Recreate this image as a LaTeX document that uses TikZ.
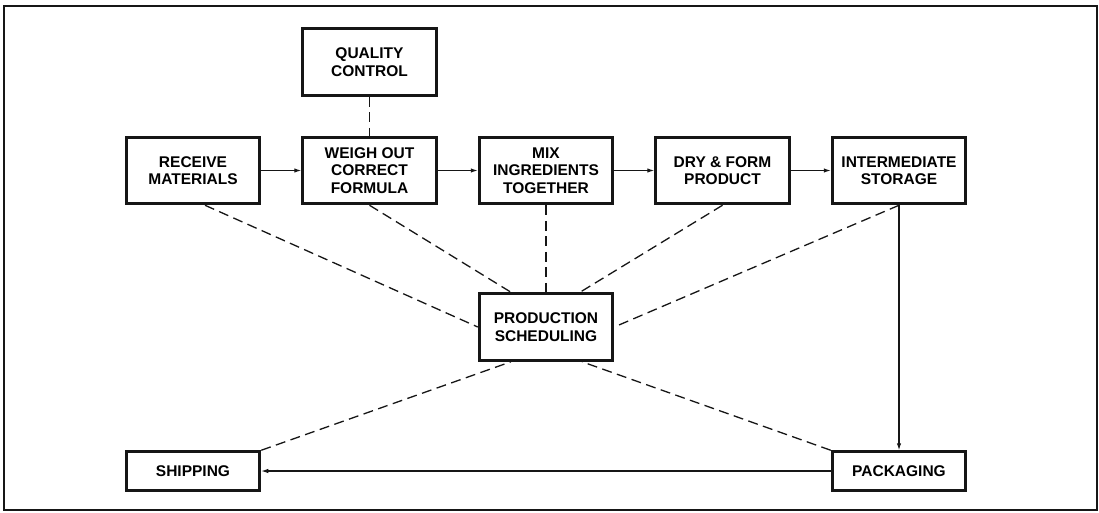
\documentclass[tikz,border=0pt]{standalone}
\usepackage{fontspec}
\setmainfont{Liberation Sans}
\usepackage{xcolor}
\usepackage{tikz}
\usetikzlibrary{
  arrows.meta,
  positioning
}
\definecolor{InkBlack}{RGB}{22,22,22}
\tikzset{
  %%── 工序方框 ─────────────────────────────────────────────
  stage/.style = {
    rectangle, draw = InkBlack, fill = white,
    line width = 3pt, inner sep = 2pt,
    minimum width = 133.5pt, minimum height = 66.5pt,
    align = center, font = \bfseries\fontsize{15.5}{17.5}\selectfont
  },
  flat/.style = {stage, minimum height = 38.5pt},
  %%── 连线 ─────────────────────────────────────────────────
  flow/.style  = {-{Latex[length = 7pt, width = 4.5pt]}, line width = 1.1pt, color = InkBlack},
  link/.style  = {dash pattern = on 10pt off 5.5pt, line width = 1.3pt, color = InkBlack},
  frame/.style = {line width = 2pt, color = InkBlack},
}
\begin{document}
\begin{tikzpicture}[x = 1pt, y = -1pt, node distance = 40pt]

  \useasboundingbox (0,0) rectangle (1099,512);
  \draw[frame] (4,6) rectangle (1097,510);

  %% ── 主流程 ───────────────────────────────────────────
  \node[stage] (receive) at (193,170.5) {RECEIVE\\MATERIALS};
  \node[stage, right=of receive] (weigh) {WEIGH OUT\\CORRECT\\FORMULA};
  \node[stage, right=of weigh]   (mix)   {MIX\\INGREDIENTS\\TOGETHER};
  \node[stage, right=of mix]     (dry)   {DRY \& FORM\\PRODUCT};
  \node[stage, right=of dry]     (inter) {INTERMEDIATE\\STORAGE};

  %% ── 质检 / 计划 ──────────────────────────────────────
  \node[stage, above=39pt of weigh] (quality) {QUALITY\\CONTROL};
  \node[stage, below=87pt of mix]   (sched)   {PRODUCTION\\SCHEDULING};

  %% ── 出货 ─────────────────────────────────────────────
  \node[flat, below=245pt of receive] (ship) {SHIPPING};
  \node[flat, below=245pt of inter]   (pack) {PACKAGING};

  %% ── 箭头 ─────────────────────────────────────────────
  \draw[flow] (receive) -- (weigh);
  \draw[flow] (weigh)   -- (mix);
  \draw[flow] (mix)     -- (dry);
  \draw[flow] (dry)     -- (inter);
  \draw[flow] (inter)   -- (pack);
  \draw[flow] (pack)    -- (ship);

  %% ── 虚线（信息联系）──────────────────────────────────
  \draw[link] (quality) -- (weigh);
  \draw[link] ([xshift=12pt]receive.south) -- (sched.west);
  \draw[link] (weigh.south) -- ([xshift=-35pt]sched.north);
  \draw[link] (mix)         -- (sched);
  \draw[link] (dry.south)   -- ([xshift=34pt]sched.north);
  \draw[link] (inter.south) -- (sched.east);
  \draw[link] (ship.north east) -- ([xshift=-35pt]sched.south);
  \draw[link] (pack.north west) -- ([xshift=36pt]sched.south);

\end{tikzpicture}
\end{document}
